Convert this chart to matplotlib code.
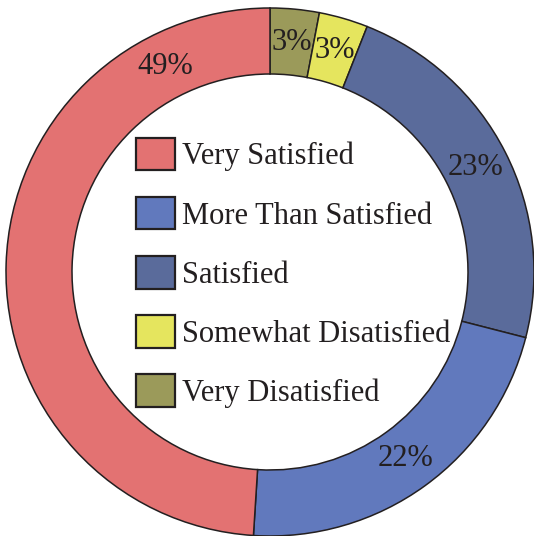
import matplotlib
matplotlib.use("Agg")
import matplotlib.pyplot as plt
import numpy as np

categories = ["Very Disatisfied", "Somewhat Disatisfied", "Satisfied",
              "More Than Satisfied", "Very Satisfied"]
values = [3, 3, 23, 22, 49]
colors = ["#9b9a5a", "#e5e55e", "#5a6b9b", "#6179bd", "#e37272"]
legend_order = ["Very Satisfied", "More Than Satisfied", "Satisfied",
                "Somewhat Disatisfied", "Very Disatisfied"]

plt.rcParams["font.family"] = ["Liberation Serif", "DejaVu Serif"]

W, H = 534, 536
fig = plt.figure(figsize=(W / 100, H / 100), dpi=100)
ax = fig.add_axes([0, 0, 1, 1])

cx, cy = 270, H - 272
r_out, ring = 264, 66
wedges, _ = ax.pie(values, colors=colors, startangle=90, counterclock=False,
                   center=(cx, cy), radius=r_out, frame=True,
                   wedgeprops=dict(width=ring, edgecolor="#231f20", linewidth=1.1))
ax.set_xlim(0, W)
ax.set_ylim(0, H)
ax.set_aspect("equal")
ax.axis("off")

# percentage labels at the middle of the ring
r_lab = r_out - ring / 2
cum = np.cumsum([0] + values[:-1])
for i, v in enumerate(values):
    frac = (cum[i] + v / 2) / sum(values)
    if categories[i] == "Very Satisfied":
        frac = 0.925  # label sits near the top of the big slice
    ang = np.deg2rad(90 - 360 * frac)
    ax.text(cx + r_lab * np.cos(ang), cy + r_lab * np.sin(ang), f"{v}%",
            ha="center", va="center", fontsize=22, color="#231f20")

handles = [wedges[categories.index(c)] for c in legend_order]
leg = fig.legend(handles, legend_order, loc="upper left",
                 bbox_to_anchor=(136 / W, 1 - 138 / H), frameon=False,
                 fontsize=22, handlelength=1.27, handleheight=1.25,
                 handletextpad=0.25, labelspacing=0.84, borderpad=0,
                 borderaxespad=0, labelcolor="#231f20")
for p in leg.get_patches():
    p.set_linewidth(1.6)

fig.savefig("out.png", dpi=100)
